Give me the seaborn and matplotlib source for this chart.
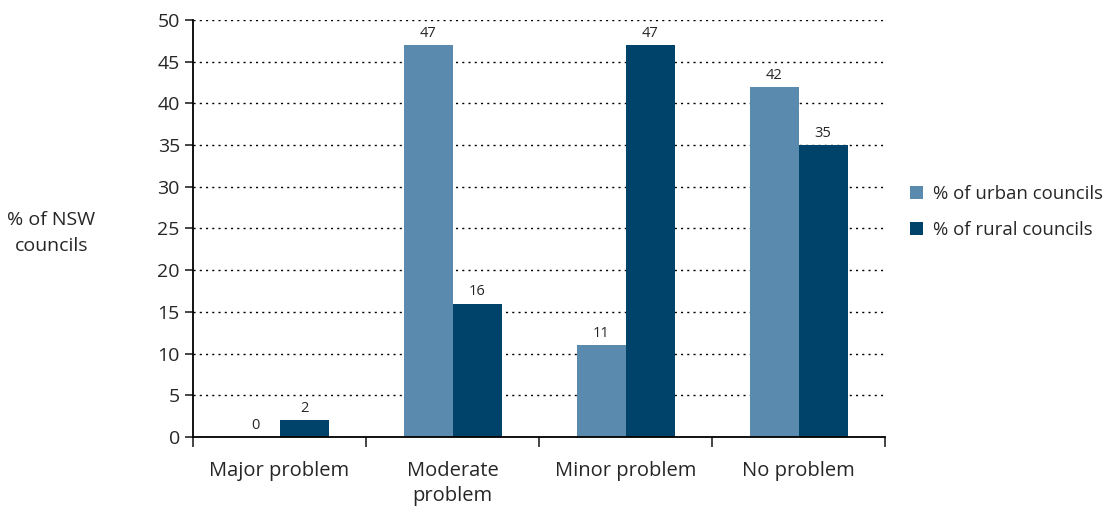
import pandas as pd
import matplotlib.pyplot as plt
import seaborn as sns

# Data
categories = ['Major problem', 'Moderate\nproblem', 'Minor problem', 'No problem']
urban = [0, 47, 11, 42]
rural = [2, 16, 47, 35]
series = ['% of urban councils', '% of rural councils']

df = pd.DataFrame({
    'category': categories * 2,
    'value': urban + rural,
    'series': [series[0]] * 4 + [series[1]] * 4,
})

sns.set_style('white')
plt.rcParams['font.family'] = ['Open Sans', 'DejaVu Sans']

fig = plt.figure(figsize=(11.19, 5.08), dpi=100)
ax = fig.add_axes([0.1725, 0.1398, 0.6185, 0.8208])

sns.barplot(data=df, x='category', y='value', hue='series',
            palette=['#5a8aad', '#00436a'], width=0.567, saturation=1,
            edgecolor='none', ax=ax)

for cont in ax.containers:
    ax.bar_label(cont, fontsize=10.5, padding=3)

ax.set_xlim(-0.5, 3.5)
ax.set_ylim(0, 50)
ax.set_yticks(range(0, 51, 5))
ax.tick_params(axis='y', labelsize=14, length=6, width=1.2, direction='out', left=True)
ax.yaxis.grid(True, linestyle=(0, (1.5, 3)), color='black', linewidth=1)
ax.set_axisbelow(True)

# category labels centred, tick marks at group boundaries
ax.set_xticks(range(4))
ax.set_xticklabels(categories, fontsize=14.5, linespacing=1.35)
ax.tick_params(axis='x', which='major', length=0, pad=17)
ax.set_xticks([-0.5, 0.5, 1.5, 2.5, 3.5], minor=True)
ax.tick_params(axis='x', which='minor', length=7, width=1.2, direction='out', bottom=True)

for s in ['top', 'right']:
    ax.spines[s].set_visible(False)
for s in ['left', 'bottom']:
    ax.spines[s].set_color('black')
    ax.spines[s].set_linewidth(1.3)

ax.set_xlabel('')
ax.set_ylabel('% of NSW\ncouncils', fontsize=14, rotation=0, ha='center', va='center',
              linespacing=1.55)
ax.yaxis.set_label_coords(-0.205, 0.49)

ax.legend(loc='center left', bbox_to_anchor=(1.012, 0.54), frameon=False,
          fontsize=13.4, handlelength=0.7, handleheight=0.7, handletextpad=0.5,
          labelspacing=0.95)

fig.savefig('out.png', dpi=100)
